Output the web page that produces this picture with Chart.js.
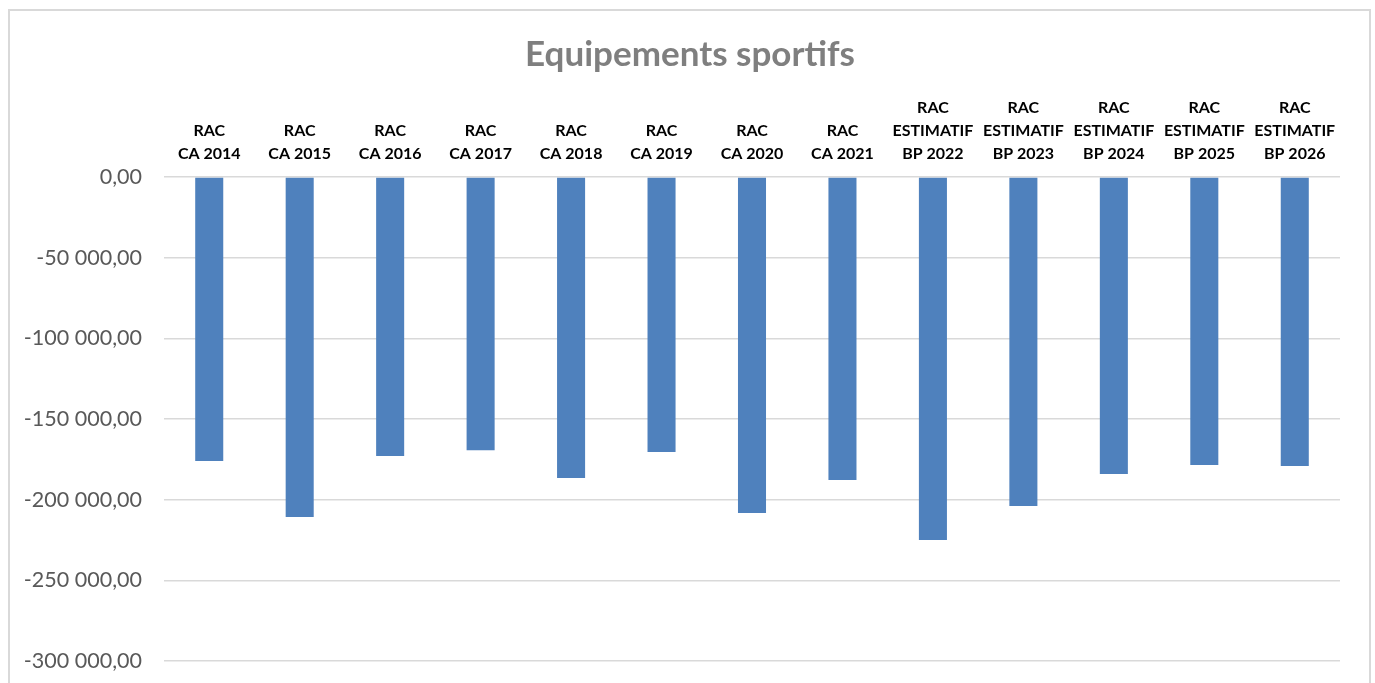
<!DOCTYPE html>
<html>
<head>
<meta charset="utf-8">
<script src="https://cdn.jsdelivr.net/npm/chart.js@4"></script>
<style>
  html, body { margin: 0; padding: 0; background: #fff; overflow: hidden; }
  #frame { position: absolute; left: 8px; top: 9px; width: 1359px; height: 720px; border: 2px solid #d9d9d9; }
  #wrap { position: absolute; left: 0; top: 0; width: 1380px; height: 700px; }
</style>
</head>
<body>
<div id="frame"></div>
<div id="wrap"><canvas id="chartSport"></canvas></div>
<script>
// categories (one array per label, one entry per line)
var categories = [
	["RAC", "CA 2014"], ["RAC", "CA 2015"], ["RAC", "CA 2016"], ["RAC", "CA 2017"],
	["RAC", "CA 2018"], ["RAC", "CA 2019"], ["RAC", "CA 2020"], ["RAC", "CA 2021"],
	["RAC", "ESTIMATIF", "BP 2022"], ["RAC", "ESTIMATIF", "BP 2023"], ["RAC", "ESTIMATIF", "BP 2024"],
	["RAC", "ESTIMATIF", "BP 2025"], ["RAC", "ESTIMATIF", "BP 2026"]
];
var valeurs = [-176000, -210700, -173000, -169300, -186600, -170500, -208300, -187800, -225000, -204000, -184100, -178500, -179100];
var yTicks = [0, -50000, -100000, -150000, -200000, -250000, -300000];

function formatFr(v) {
	var neg = v < 0;
	var s = Math.abs(v).toFixed(2).split(".");
	var ent = s[0].replace(/\B(?=(\d{3})+(?!\d))/g, " ");
	return (neg ? "-" : "") + ent + "," + s[1];
}

var ctx = document.getElementById('chartSport').getContext('2d');
var barGraph = new Chart(ctx, {
	type: 'bar',
	data: {
		labels: categories,
		datasets: [{
			label: "Equipements sportifs",
			data: valeurs,
			backgroundColor: '#4f81bd',
			borderWidth: 0,
			barPercentage: 0.31,
			categoryPercentage: 1
		}]
	},
	options: {
		responsive: true,
		maintainAspectRatio: false,
		animation: false,
		layout: { padding: { left: 0, right: 0, top: 0, bottom: 39 } },
		plugins: {
			legend: { display: false },
			tooltip: { enabled: false },
			title: {
				display: true,
				text: 'Equipements sportifs',
				color: '#7f7f7f',
				font: { family: 'Lato', size: 35, weight: 'bold', lineHeight: 1.2 },
				padding: { top: 34, bottom: 4 }
			}
		},
		scales: {
			x: {
				position: 'top',
				grid: { display: false, drawTicks: false },
				border: { display: false },
				ticks: {
					color: '#000',
					font: { family: 'Lato', size: 16, weight: 'bold', lineHeight: 1.44 },
					padding: 12,
					maxRotation: 0,
					autoSkip: false
				},
				afterFit: function(scale) { scale.height = 97; }
			},
			y: {
				min: -300000,
				max: 0,
				afterBuildTicks: function(scale) {
					scale.ticks = yTicks.map(function(v) { return { value: v }; });
				},
				grid: { color: '#d9d9d9', lineWidth: 1.5, drawTicks: false },
				border: { display: false },
				ticks: {
					color: '#595959',
					font: { family: 'Lato', size: 21.5 },
					padding: 22,
					callback: function(v) { return formatFr(v); }
				},
				afterFit: function(scale) { scale.width = 164; }
			},
			// empty right margin so the title stays centred on the frame
			yRight: {
				position: 'right',
				min: -300000,
				max: 0,
				grid: { display: false, drawTicks: false },
				border: { display: false },
				ticks: { display: false },
				afterFit: function(scale) { scale.width = 40; }
			}
		}
	}
});
</script>
</body>
</html>
